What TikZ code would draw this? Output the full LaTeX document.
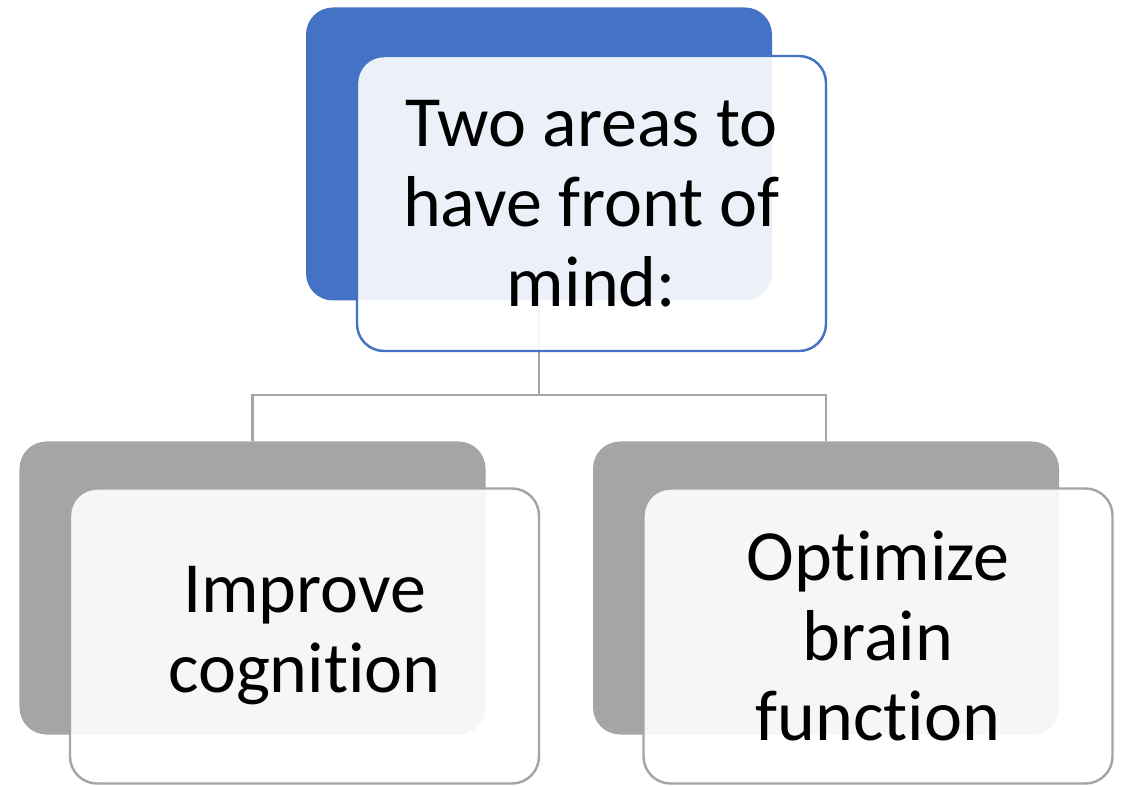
\documentclass[tikz,border=0pt]{standalone}
\usepackage{fontspec}
\setmainfont{Carlito}[Ligatures={NoCommon}]
\usetikzlibrary{positioning}
\definecolor{AccentBlue}{HTML}{4472C4}
\definecolor{AccentGray}{HTML}{A5A5A5}

\tikzset{
  backbox/.style={rounded corners=0.27cm, inner sep=0pt, minimum width=4.66cm, minimum height=2.93cm},
  frontbox/.style={rounded corners=0.27cm, inner sep=0pt, minimum width=4.69cm, minimum height=2.95cm,
    fill=white, fill opacity=0.9, text opacity=1, line width=0.7pt, align=center,
    font=\fontsize{20.5}{22.8}\selectfont},
  link/.style={AccentGray, line width=0.7pt}
}

\begin{document}
\begin{tikzpicture}
  \useasboundingbox[fill=white] (0,0) rectangle (11.23,7.85);

  % Back boxes
  \node[backbox, fill=AccentBlue] (topback) at (5.39,6.31) {};
  \node[backbox, fill=AccentGray] (leftback) at (2.525,1.97) {};
  \node[backbox, fill=AccentGray] (rightback) at (8.26,1.97) {};

  % Connectors
  \coordinate (fork) at (5.39,3.90);
  \draw[link] (topback.south) -- (fork);
  \draw[link] (fork) -| (leftback.north);
  \draw[link] (fork) -| (rightback.north);

  % Front boxes
  \node[frontbox, draw=AccentBlue] (topfront) at (5.915,5.815) {Two areas to\\have front of\\mind:};
  \node[frontbox, draw=AccentGray] (leftfront) at (3.045,1.49) {Improve\\cognition};
  \node[frontbox, draw=AccentGray] (rightfront) at (8.78,1.49) {Optimize\\brain\\function};
\end{tikzpicture}
\end{document}
